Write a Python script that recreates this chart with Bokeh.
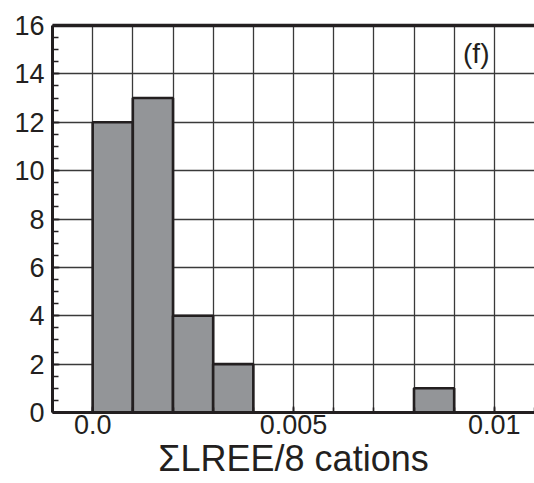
from bokeh.plotting import figure
from bokeh.models import (Range1d, LinearAxis, FixedTicker, SingleIntervalTicker,
                          Label, ColumnDataSource)
from bokeh.embed import file_html
from bokeh.resources import INLINE

# ---- data ----
bin_left = [0.0, 0.001, 0.002, 0.003, 0.008]
bin_right = [0.001, 0.002, 0.003, 0.004, 0.009]
counts = [12, 13, 4, 2, 1]
x_tick_values = [0.0, 0.005, 0.01]
x_tick_labels = ["0.0", "0.005", "0.01"]
x_label = "ΣLREE/8 cations"
panel_tag = "(f)"

FONT = "Liberation Sans"
INK = "#231f20"

p = figure(width=534, height=483, output_backend="svg", toolbar_location=None,
           x_range=Range1d(-0.001, 0.011), y_range=Range1d(0, 16),
           min_border_left=52, min_border_top=25, min_border_bottom=71,
           min_border_right=0, x_axis_location=None, y_axis_location=None)
p.outline_line_color = None
p.background_fill_color = "white"

src = ColumnDataSource(dict(left=bin_left, right=bin_right, top=counts,
                            bottom=[0] * len(counts)))
p.quad(left="left", right="right", top="top", bottom="bottom", source=src,
       fill_color="#939598", line_color=INK, line_width=2.6)

# grids
p.xgrid.ticker = SingleIntervalTicker(interval=0.001)
p.ygrid.ticker = SingleIntervalTicker(interval=2)
for g in (p.xgrid, p.ygrid):
    g.grid_line_color = "#3a3a3a"
    g.grid_line_width = 1.3

# axes
xaxis = LinearAxis(ticker=FixedTicker(ticks=x_tick_values,
                                      minor_ticks=[i * 0.001 for i in range(-1, 12)]),
                   major_label_overrides={v: s for v, s in zip(x_tick_values, x_tick_labels)},
                   axis_label=x_label)
xaxis.axis_line_width = 3
xaxis.axis_line_color = INK
xaxis.major_tick_in = 6
xaxis.major_tick_out = 0
xaxis.minor_tick_in = 5
xaxis.minor_tick_out = 0
xaxis.major_tick_line_color = INK
xaxis.minor_tick_line_color = INK
xaxis.major_tick_line_width = 1.5
xaxis.minor_tick_line_width = 1.5
xaxis.major_label_text_font = FONT
xaxis.major_label_text_font_size = "27px"
xaxis.major_label_text_color = INK
xaxis.major_label_standoff = 2
xaxis.axis_label_text_font = FONT
xaxis.axis_label_text_font_size = "36px"
xaxis.axis_label_text_font_style = "normal"
xaxis.axis_label_text_color = INK
xaxis.axis_label_standoff = 1
p.add_layout(xaxis, "below")

yaxis = LinearAxis(ticker=SingleIntervalTicker(interval=2, num_minor_ticks=4))
yaxis.axis_line_width = 3
yaxis.axis_line_color = INK
yaxis.major_tick_in = 7
yaxis.major_tick_out = 0
yaxis.minor_tick_in = 6
yaxis.minor_tick_out = 0
yaxis.major_tick_line_color = INK
yaxis.minor_tick_line_color = INK
yaxis.major_tick_line_width = 1.5
yaxis.minor_tick_line_width = 1.5
yaxis.major_label_text_font = FONT
yaxis.major_label_text_font_size = "27px"
yaxis.major_label_text_color = INK
yaxis.major_label_standoff = 8
yaxis.major_label_orientation = "horizontal"
p.add_layout(yaxis, "left")

top_axis = LinearAxis(ticker=FixedTicker(ticks=[]))
top_axis.axis_line_width = 3.5
top_axis.axis_line_color = INK
top_axis.major_tick_in = 0
top_axis.major_tick_out = 0
top_axis.minor_tick_in = 0
top_axis.minor_tick_out = 0
top_axis.major_label_text_font_size = "0px"
p.add_layout(top_axis, "above")

p.add_layout(Label(x=0.00955, y=14.85, text=panel_tag, text_align="center",
                   text_baseline="middle", text_font=FONT, text_font_size="28px",
                   text_color=INK))

open("out.html", "w").write(file_html(p, INLINE))
